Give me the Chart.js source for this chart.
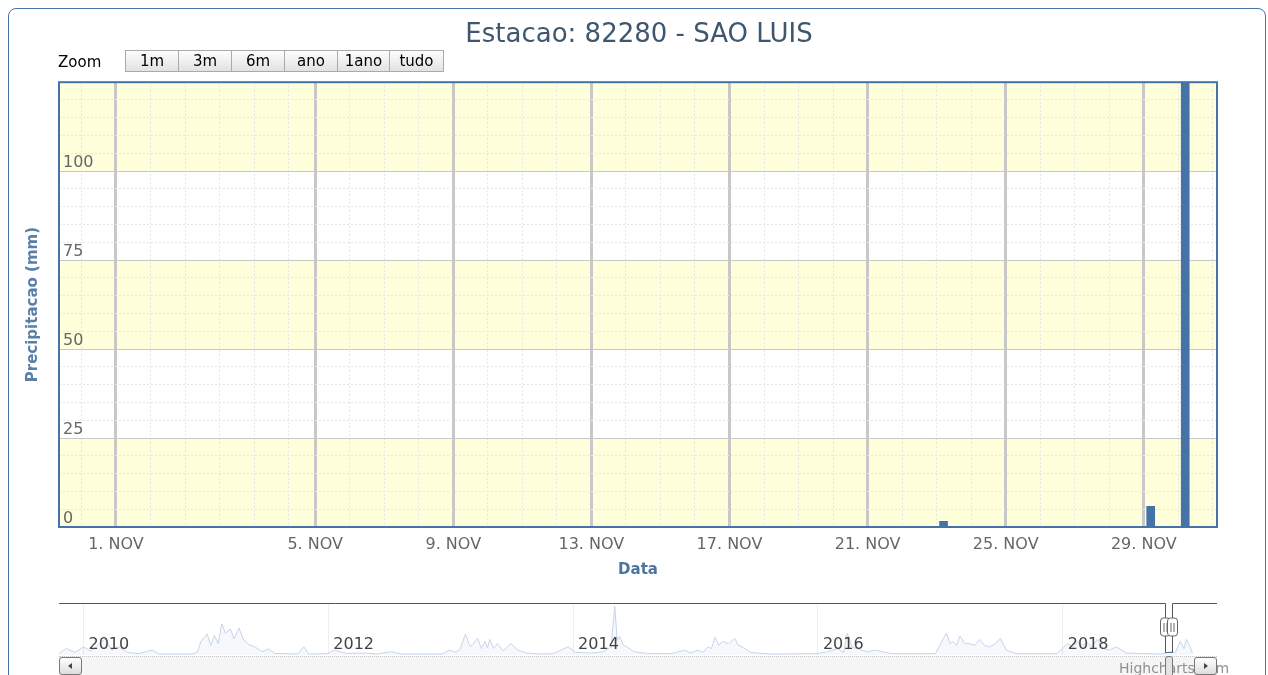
<!DOCTYPE html>
<html>
<head>
<meta charset="utf-8">
<script src="https://cdn.jsdelivr.net/npm/chart.js@4.4.1/dist/chart.umd.min.js"></script>
<style>
  body { margin: 0; background: #fff; font-family: "DejaVu Sans", sans-serif; }
  #frame { position: absolute; left: 8px; top: 8px; width: 1256px; height: 700px;
           border: 1px solid #4572A7; border-radius: 8px; }
  #main { position: absolute; left: 0; top: 0; }
  #nav { position: absolute; left: 0; top: 590px; }
  #zoomLabel { position: absolute; left: 58px; top: 53px; font-size: 15px; color: #000; }
  #buttons { position: absolute; left: 125px; top: 50px; display: flex; }
  #buttons div { height: 20px; line-height: 20px; border: 1px solid #aaa; margin-right: -1px;
                 background: linear-gradient(#fdfdfd, #e2e2e2); font-size: 15px; text-align: center; color: #000; }
  #track { position: absolute; left: 59px; top: 656px; width: 1158px; height: 18px;
           background: #f5f5f5; border-top: 1px dotted #c8c8c8; }
  .sbtn { position: absolute; top: 657px; width: 21px; height: 16px; border: 1px solid #777;
          border-radius: 3px; background: linear-gradient(#fff, #ddd); }
  .sbtn span { position: absolute; top: 5px; width: 0; height: 0; border-top: 3px solid transparent; border-bottom: 3px solid transparent; }
  #thumb { position: absolute; left: 1165px; top: 656px; width: 6px; height: 19px;
           border: 1px solid #777; border-radius: 3px; background: #e4e4e4; }
  #credit { position: absolute; left: 1119px; top: 660px; font-size: 14px; color: #909090; }
</style>
</head>
<body>
<div id="frame"></div>
<canvas id="main" width="1268" height="600"></canvas>
<canvas id="nav" width="1268" height="85"></canvas>
<div id="zoomLabel">Zoom</div>
<div id="buttons">
  <div style="width:52px">1m</div><div style="width:52px">3m</div><div style="width:52px">6m</div>
  <div style="width:52px">ano</div><div style="width:51px">1ano</div><div style="width:53px">tudo</div>
</div>
<div id="track"></div>
<div id="credit">Highcharts.com</div>
<div class="sbtn" style="left:59px"><span style="left:8px;border-right:4px solid #444"></span></div>
<div class="sbtn" style="left:1194px"><span style="left:9px;border-left:4px solid #444"></span></div>
<div id="thumb"></div>
<script>
// main chart: daily rain, November 2018
const tickDays = [1, 5, 9, 13, 17, 21, 25, 29];
const tickLabels = ['1. NOV', '5. NOV', '9. NOV', '13. NOV', '17. NOV', '21. NOV', '25. NOV', '29. NOV'];
const rainDay = [23.2, 29.2, 30.2];
const rainMm = [1.6, 5.8, 130];
const yTicks = [0, 25, 50, 75, 100, 125];
const bandRanges = [[0, 25], [50, 75], [100, 125]];

// navigator: whole series 2010-2019
const navTicks = [2010, 2012, 2014, 2016, 2018];
const navRange = [2018.835, 2018.895];
const navYear = [
  2009.80, 2009.86, 2009.93, 2010.00, 2010.06, 2010.12, 2010.18, 2010.23, 2010.29, 2010.36, 2010.45, 2010.56, 2010.62, 2010.88, 2010.93,
  2010.96, 2011.01, 2011.04, 2011.07, 2011.10, 2011.13, 2011.16, 2011.20, 2011.23, 2011.27, 2011.31, 2011.36, 2011.40, 2011.46, 2011.51,
  2011.56, 2011.75, 2011.80, 2011.84, 2011.99, 2012.05, 2012.15, 2012.30, 2012.40, 2012.51, 2012.60, 2012.93, 2012.99, 2013.04, 2013.08,
  2013.12, 2013.16, 2013.22, 2013.25, 2013.28, 2013.30, 2013.32, 2013.35, 2013.38, 2013.43, 2013.49, 2013.55, 2013.62, 2013.73, 2013.84,
  2013.90, 2013.96, 2014.02, 2014.15, 2014.25, 2014.31, 2014.34, 2014.36, 2014.38, 2014.41, 2014.44, 2014.50, 2014.60, 2014.80, 2014.91,
  2014.96, 2015.02, 2015.06, 2015.10, 2015.13, 2015.16, 2015.19, 2015.22, 2015.27, 2015.32, 2015.35, 2015.38, 2015.45, 2015.60, 2015.98,
  2016.08, 2016.16, 2016.21, 2016.24, 2016.28, 2016.33, 2016.40, 2016.47, 2016.60, 2016.96, 2017.02, 2017.05, 2017.08, 2017.10, 2017.13,
  2017.16, 2017.20, 2017.24, 2017.28, 2017.32, 2017.36, 2017.40, 2017.45, 2017.49, 2017.54, 2017.62, 2017.95, 2018.00, 2018.04, 2018.08,
  2018.12, 2018.16, 2018.20, 2018.24, 2018.28, 2018.33, 2018.38, 2018.44, 2018.52, 2018.79, 2018.84, 2018.87, 2018.92, 2018.96, 2018.99,
  2019.01, 2019.04, 2019.06
];
const navMm = [
  5, 20, 8, 25, 12, 30, 51, 15, 25, 8, 4, 15, 3, 3, 8,
  42, 64, 30, 60, 35, 96, 67, 80, 50, 83, 45, 30, 25, 10, 19,
  5, 3, 25, 3, 4, 15, 5, 6, 3, 10, 3, 3, 15, 8, 20,
  64, 25, 51, 20, 42, 22, 48, 20, 35, 12, 35, 15, 6, 3, 4,
  15, 25, 8, 6, 10, 25, 150, 45, 58, 30, 25, 10, 5, 4, 15,
  6, 15, 8, 25, 20, 55, 30, 42, 35, 51, 30, 25, 8, 3, 4,
  10, 20, 8, 67, 25, 18, 10, 15, 4, 4, 48, 67, 35, 42, 30,
  58, 35, 35, 30, 48, 30, 25, 35, 51, 15, 4, 4, 20, 35, 25,
  40, 30, 38, 25, 48, 20, 15, 25, 6, 3, 5, 10, 8, 42, 20,
  48, 25, 5
];

// ordinal axis: 1-5 Nov takes more room than the other 4-day spans
function ord(day) { return day < 5 ? day - 1.77 : day; }

Chart.defaults.font.family = '"DejaVu Sans", sans-serif';

const bandsPlugin = {
  id: 'bands',
  beforeDraw(chart) {
    const { ctx, chartArea: a, scales: { y } } = chart;
    ctx.save();
    ctx.fillStyle = '#FFFFDB';
    bandRanges.forEach(([lo, hi]) => {
      const top = y.getPixelForValue(hi), bot = y.getPixelForValue(lo);
      ctx.fillRect(a.left, top, a.right - a.left, bot - top);
    });
    ctx.restore();
  }
};

const borderPlugin = {
  id: 'plotBorder',
  afterDraw(chart) {
    const { ctx, chartArea: a } = chart;
    ctx.save();
    ctx.strokeStyle = '#4572A7';
    ctx.lineWidth = 2;
    ctx.strokeRect(a.left, a.top, a.right - a.left, a.bottom - a.top);
    ctx.restore();
  }
};

new Chart(document.getElementById('main'), {
  type: 'bar',
  data: {
    datasets: [{
      data: rainDay.map((d, i) => ({ x: ord(d), y: rainMm[i] })),
      backgroundColor: '#4572A7',
      barThickness: 8,
      clip: 0
    }]
  },
  options: {
    responsive: false,
    animation: false,
    layout: { padding: { left: 10, right: 0, top: 10, bottom: 13 } },
    plugins: {
      legend: { display: false },
      tooltip: { enabled: false },
      title: {
        display: true,
        text: 'Estacao: 82280 - SAO LUIS',
        color: '#3E576F',
        font: { size: 26, weight: 'normal' },
        padding: { top: 10, bottom: 31 }
      }
    },
    scales: {
      x: {
        type: 'linear', min: ord(1) - 1.65, max: 31.12, offset: false,
        grid: { offset: false, color: '#C8C8C8', lineWidth: 3, drawTicks: false },
        border: { display: false },
        afterBuildTicks: s => { s.ticks = tickDays.map(d => ({ value: ord(d) })); },
        ticks: { autoSkip: false, maxRotation: 0, padding: 8, color: '#666', font: { size: 16 },
                 callback: (v, i) => tickLabels[i] },
        title: { display: true, text: 'Data', color: '#4D759E', font: { size: 15, weight: 'bold' },
                 padding: { top: 0, bottom: 8 } },
        afterFit: s => { s.height = 60; }
      },
      xMinor: {
        type: 'linear', axis: 'x', position: 'bottom', min: ord(1) - 1.65, max: 31.12, offset: false,
        grid: { offset: false, color: '#E6E6E6', lineWidth: 1, drawTicks: false },
        border: { display: false, dash: [2, 2] },
        ticks: { display: false },
        afterBuildTicks: s => {
          const t = [];
          for (let v = ord(0); v < 5; v += 1) t.push(v);
          for (let v = 5; v <= 31; v += 1) t.push(v);
          const major = tickDays.map(ord);
          s.ticks = t.filter(v => !major.some(m => Math.abs(m - v) < 0.01)).map(v => ({ value: v }));
        },
        afterFit: s => { s.height = 0; }
      },
      y: {
        type: 'linear', min: 0, max: 125, position: 'left',
        grid: { color: '#C8C8C8', lineWidth: 1, drawTicks: false },
        border: { display: false },
        afterBuildTicks: s => { s.ticks = yTicks.map(v => ({ value: v })); },
        ticks: { mirror: true, padding: 4, labelOffset: -8, color: '#666', font: { size: 16 },
                 callback: v => (v === 125 ? '' : v) },
        title: { display: true, text: 'Precipitacao (mm)', color: '#5A7FA8', font: { size: 15, weight: 'bold' },
                 padding: { top: 14, bottom: 0 } },
        afterFit: s => { s.width = 49; }
      },
      yMinor: {
        type: 'linear', axis: 'y', position: 'left', min: 0, max: 125,
        grid: { color: '#E6E6E6', lineWidth: 1, drawTicks: false },
        border: { display: false, dash: [2, 2] },
        ticks: { display: false },
        afterBuildTicks: s => {
          const t = [];
          for (let v = 5; v < 125; v += 5) if (v % 25 !== 0) t.push({ value: v });
          s.ticks = t;
        },
        afterFit: s => { s.width = 0; }
      },
      yRight: {
        type: 'linear', axis: 'y', position: 'right', min: 0, max: 125,
        grid: { display: false }, border: { display: false }, ticks: { display: false },
        afterFit: s => { s.width = 51; }
      }
    }
  },
  plugins: [bandsPlugin, borderPlugin]
});

const navigatorPlugin = {
  id: 'navigator',
  afterDraw(chart) {
    const { ctx, chartArea: a, scales: { x } } = chart;
    ctx.save();
    ctx.fillStyle = '#444';
    ctx.font = '16px "DejaVu Sans", sans-serif';
    ctx.textBaseline = 'middle';
    navTicks.forEach(yr => ctx.fillText(String(yr), x.getPixelForValue(yr) + 5, a.bottom - 10));

    const hl = Math.round(x.getPixelForValue(navRange[0])) + 0.5;
    const hr = Math.round(x.getPixelForValue(navRange[1])) + 0.5;
    const top = a.top + 0.5, bot = a.bottom - 2.5;
    ctx.strokeStyle = '#555';
    ctx.lineWidth = 1;
    ctx.beginPath();
    ctx.moveTo(a.left, top); ctx.lineTo(hl, top); ctx.lineTo(hl, bot);
    ctx.lineTo(hr, bot); ctx.lineTo(hr, top); ctx.lineTo(a.right, top);
    ctx.stroke();
    ctx.strokeStyle = '#4572A7';
    ctx.beginPath(); ctx.moveTo(hl, bot); ctx.lineTo(hr, bot); ctx.stroke();

    const mid = a.top + 24;
    [hl, hr].forEach(h => {
      ctx.fillStyle = '#fff';
      ctx.strokeStyle = '#666';
      ctx.beginPath();
      ctx.roundRect(h - 5, mid - 9, 10, 18, 3);
      ctx.fill(); ctx.stroke();
      ctx.beginPath();
      ctx.moveTo(h - 1.5, mid - 4); ctx.lineTo(h - 1.5, mid + 5);
      ctx.moveTo(h + 1.5, mid - 4); ctx.lineTo(h + 1.5, mid + 5);
      ctx.stroke();
    });
    ctx.restore();
  }
};

new Chart(document.getElementById('nav'), {
  type: 'line',
  data: {
    datasets: [{
      data: navYear.map((yr, i) => ({ x: yr, y: navMm[i] })),
      borderColor: '#C4D5EA',
      borderWidth: 1,
      backgroundColor: 'rgba(69,114,167,0.05)',
      fill: 'origin',
      pointRadius: 0,
      tension: 0
    }]
  },
  options: {
    responsive: false,
    animation: false,
    layout: { padding: { left: 59, right: 51, top: 13, bottom: 20 } },
    plugins: { legend: { display: false }, tooltip: { enabled: false } },
    scales: {
      x: {
        type: 'linear', min: 2009.8, max: 2019.26,
        grid: { color: '#EFEFEF', drawTicks: false },
        border: { display: false },
        ticks: { display: false },
        afterBuildTicks: s => { s.ticks = navTicks.map(v => ({ value: v })); },
        afterFit: s => { s.height = 0; }
      },
      y: { display: false, min: 0, max: 160 }
    }
  },
  plugins: [navigatorPlugin]
});
</script>
</body>
</html>
